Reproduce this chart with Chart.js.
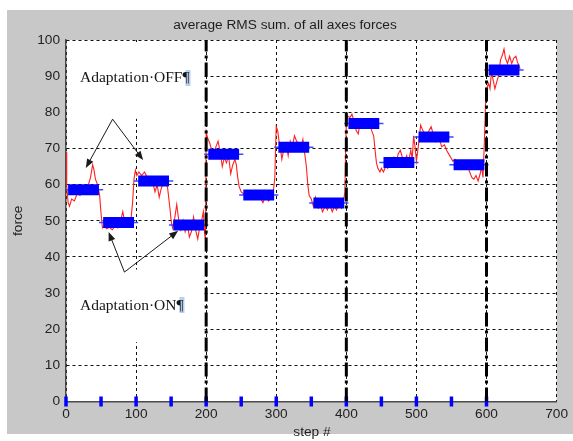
<!DOCTYPE html>
<html><head><meta charset="utf-8">
<script src="https://cdn.jsdelivr.net/npm/chart.js@4.4.0/dist/chart.umd.min.js"></script>
<style>html,body{margin:0;padding:0;background:#fff;overflow:hidden}</style>
</head><body>
<canvas id="c" width="573" height="441"></canvas>
<script>
const TITLE = "average RMS sum. of all axes forces";
const X_TITLE = "step #";
const Y_TITLE = "force";
const xTicks = [0, 100, 200, 300, 400, 500, 600, 700];
const yTicks = [0, 10, 20, 30, 40, 50, 60, 70, 80, 90, 100];

// red measured force trace
const steps = [0,1,3,5,8,12,16,20,24,28,32,35,38,40,42,45,48,50,52,
  55,58,62,66,70,74,78,81,84,87,90,93,95,97,99,
  101,104,108,112,116,120,124,127,130,133,136,139,142,145,148,150,152,
  155,158,161,164,167,170,173,176,179,182,185,188,191,194,196,198,199,
  200,202,205,208,211,214,217,220,223,226,229,232,235,238,241,243,245,247,250,
  253,257,261,265,269,273,277,281,285,289,293,296,298,299,300,
  302,304,306,308,311,314,317,320,323,326,329,332,335,338,341,343,345,347,350,
  353,356,360,363,366,370,373,376,380,383,386,390,393,396,398,399,400,
  402,405,408,411,414,417,420,423,426,430,433,436,439,441,443,445,448,450,
  453,456,459,462,465,468,471,474,477,480,483,486,489,492,494,496,498,500,
  503,506,509,512,515,518,521,524,527,530,533,536,540,543,546,549,
  552,555,558,561,564,567,570,573,576,579,582,585,588,591,593,595,597,599,601,
  603,605,607,610,612,614,617,620,623,625,627,630,633,636,639,642,644,646,648];
const force = [69,60,55,54,56,55.5,57.5,57,58.5,58,60,62,65.5,64,61.5,60,57,52,48,
  48.5,47.8,48.2,47.5,48.5,48,50,52.5,49.5,50.5,49,51,55,61.5,64,
  62.5,63.5,62.5,63.5,62,61,60.5,58,60,56.5,59,60.5,61,59,54,50,48,
  50.5,54.5,50,47.5,50,47,49.5,45.5,47,51,47.5,45,48.5,50.5,52.5,46,45,
  74.5,73,71.5,69.5,68.5,70.5,72,69,65,67.5,66,68,63,65.5,67,65.5,62,59.5,58,
  57.5,56.5,57.5,57,56,57.5,56.5,55,57,55.5,56.5,58.5,62,70,76,
  75,72,70,67,70,71.5,68,72,70.5,73.5,72,71.5,70,72.5,68,65,60,57,56,
  54,56.5,53.5,54.5,52.5,54,53,54.5,52.5,54,53,55,53.5,55.5,58,70,77,
  79,78.5,79.5,77.5,75,74,77.5,76.5,78,77,78,75,73.5,69.5,66,64.5,63.5,64.5,
  63.5,65,64.5,66.5,65.5,67.5,66,68.5,69.5,67.5,66,68,66.5,69.5,67,73.5,70.5,66.5,
  71,76.5,75,74,73.5,75,76,74,72,73.5,72.5,70.5,71,69.5,68.5,67.5,
  66.5,67,66,66.5,65.5,66,64.5,65,63.5,62,61.5,62.5,61,63,65,62,72,85,87,
  88,86.5,91,88.5,86.5,88,90,94.5,96,97.5,95,93.5,95.5,93.5,95,95.5,94,93,92];

// blue block means (50-step blocks)
const blockStart = [0,50,100,150,200,250,300,350,400,450,500,550,600];
const blockMean = [58.6,49.5,61.0,48.8,68.4,57.1,70.3,54.9,76.9,66.1,73.2,65.5,91.7];
const blockLen = 50;

// blue step markers on the axis
const markerSteps = [0,50,100,150,200,250,300,350,400,450,500,550,600];
const markerValue = [0,0,0,0,0,0,0,0,0,0,0,0,0];

// phase boundaries (dash-dot lines)
const phaseBoundaries = [200, 400, 600];

// annotations
const noteOff = "Adaptation\u00B7OFF\u00B6";
const noteOn = "Adaptation\u00B7ON\u00B6";
const offArrowTail = [66.5, 78.1];
const offArrowTips = [[28.3, 64.6], [110, 66.8]];
const onArrowTail = [83.4, 35.8];
const onArrowTips = [[60.8, 46.9], [160, 47.2]];

// --- build datasets ---
const redData = steps.map((s, i) => ({x: s, y: force[i]}));
const thick = [], thin = [];
blockStart.forEach((s, i) => {
  thick.push({x: s + 3, y: blockMean[i]}, {x: s + blockLen - 3, y: blockMean[i]}, {x: s + blockLen - 1, y: null});
  thin.push({x: s - 3, y: blockMean[i]}, {x: s + blockLen + 3, y: blockMean[i]}, {x: s + blockLen + 4, y: null});
});
const phaseData = [];
phaseBoundaries.forEach(b => { phaseData.push({x: b, y: 0}, {x: b, y: 100}, {x: b + 1, y: null}); });
const markerData = markerSteps.map((s, i) => ({x: s, y: markerValue[i]}));

const FONT = "'Liberation Sans', Arial, Helvetica, sans-serif";

function arrow(ctx, x1, y1, x2, y2) {
  const ang = Math.atan2(y2 - y1, x2 - x1);
  const L = 9, W = 3.5;
  ctx.beginPath(); ctx.moveTo(x1, y1);
  ctx.lineTo(x2 - L * 0.8 * Math.cos(ang), y2 - L * 0.8 * Math.sin(ang)); ctx.stroke();
  ctx.beginPath();
  ctx.moveTo(x2, y2);
  ctx.lineTo(x2 - L * Math.cos(ang) + W * Math.sin(ang), y2 - L * Math.sin(ang) - W * Math.cos(ang));
  ctx.lineTo(x2 - L * Math.cos(ang) - W * Math.sin(ang), y2 - L * Math.sin(ang) + W * Math.cos(ang));
  ctx.closePath(); ctx.fill();
}

const deco = {
  id: 'deco',
  beforeDraw(chart) {
    const ctx = chart.ctx, a = chart.chartArea;
    ctx.save();
    ctx.fillStyle = '#ffffff'; ctx.fillRect(0, 0, chart.width, chart.height);
    ctx.fillStyle = '#c8c8c8'; ctx.fillRect(7, 10, chart.width - 7, 424);
    ctx.fillStyle = '#ffffff'; ctx.fillRect(a.left, a.top, a.right - a.left, a.bottom - a.top);
    ctx.restore();
  },
  beforeDatasetsDraw(chart) {
    const ctx = chart.ctx, a = chart.chartArea, xs = chart.scales.x, ys = chart.scales.y;
    ctx.save();
    ctx.fillStyle = '#ffffff';
    const xr = xs.getPixelForValue(200) - 2;
    ctx.fillRect(a.left + 1, a.top + 2, xr - a.left - 1, ys.getPixelForValue(78.2) - a.top - 2);
    ctx.fillRect(a.left + 1, ys.getPixelForValue(36.5), xr - a.left - 1, ys.getPixelForValue(16.4) - ys.getPixelForValue(36.5));
    ctx.restore();
  },
  afterDatasetsDraw(chart) {
    const ctx = chart.ctx, xs = chart.scales.x, ys = chart.scales.y;
    ctx.save();
    ctx.font = "15.5px 'Liberation Serif', 'Times New Roman', serif";
    ctx.textBaseline = 'alphabetic';
    ctx.textAlign = 'left';
    const tx = xs.getPixelForValue(20);
    const wOff = ctx.measureText(noteOff).width, wOn = ctx.measureText(noteOn).width;
    ctx.fillStyle = '#b8d0f0';
    ctx.fillRect(tx + wOff - 4, 70, 5, 16);
    ctx.fillRect(tx + wOn - 4, 297, 5, 16);
    ctx.fillStyle = '#141414';
    ctx.fillText(noteOff, tx, 82);
    ctx.fillText(noteOn, tx, 310);
    ctx.strokeStyle = '#1a1a1a'; ctx.fillStyle = '#1a1a1a'; ctx.lineWidth = 1;
    const px = p => [xs.getPixelForValue(p[0]), ys.getPixelForValue(p[1])];
    const t1 = px(offArrowTail);
    offArrowTips.forEach(p => { const q = px(p); arrow(ctx, t1[0], t1[1], q[0], q[1]); });
    const t2 = px(onArrowTail);
    onArrowTips.forEach(p => { const q = px(p); arrow(ctx, t2[0], t2[1], q[0], q[1]); });
    ctx.restore();
  },
  afterDraw(chart) {
    const ctx = chart.ctx, a = chart.chartArea;
    ctx.save();
    ctx.fillStyle = '#1e1e1e';
    ctx.font = "13.7px " + FONT;
    ctx.textAlign = 'center'; ctx.textBaseline = 'middle';
    ctx.fillText(TITLE, 285, 25);
    ctx.fillText(X_TITLE, 312, 432);
    ctx.translate(18, (a.top + a.bottom) / 2);
    ctx.rotate(-Math.PI / 2);
    ctx.fillText(Y_TITLE, 0, 0);
    ctx.restore();
  }
};

new Chart(document.getElementById('c'), {
  type: 'line',
  data: {
    datasets: [
      {data: phaseData, borderColor: '#000000', borderWidth: 3, borderDash: [14, 4, 3, 4], pointRadius: 0, borderCapStyle: 'butt', spanGaps: false},
      {data: markerData, showLine: false, clip: false, pointStyle: 'line', pointRotation: 90, pointRadius: 5, pointBorderWidth: 3.5, pointBorderColor: '#0000ff', pointBackgroundColor: '#0000ff'},
      {data: thick, borderColor: '#0000ff', borderWidth: 11, pointRadius: 0, borderCapStyle: 'butt', spanGaps: false},
      {data: thin, borderColor: '#3a4cff', borderWidth: 1.5, pointRadius: 0, spanGaps: false},
      {data: redData, borderColor: '#ff2020', borderWidth: 1.1, pointRadius: 0, tension: 0}
    ]
  },
  options: {
    responsive: false,
    animation: false,
    devicePixelRatio: 1,
    layout: {padding: {left: 0, top: 40, right: 12, bottom: 0}},
    plugins: {legend: {display: false}, tooltip: {enabled: false}, title: {display: false}},
    scales: {
      x: {
        type: 'linear', min: 0, max: 700,
        afterFit(s) { s.height = 39.5; },
        afterBuildTicks(s) { s.ticks = xTicks.map(v => ({value: v})); },
        grid: {color: '#111111', lineWidth: 1, drawTicks: false},
        border: {display: true, color: '#4a4a4a', width: 1.5, dash: [3, 3]},
        ticks: {color: '#222222', font: {family: FONT, size: 13.7}, padding: 5, maxRotation: 0, autoSkip: false}
      },
      y: {
        type: 'linear', min: 0, max: 100,
        afterFit(s) { s.width = 66; },
        afterBuildTicks(s) { s.ticks = yTicks.map(v => ({value: v})); },
        grid: {color: '#111111', lineWidth: 1, drawTicks: false},
        border: {display: true, color: '#4a4a4a', width: 1.5, dash: [3, 3]},
        ticks: {color: '#222222', font: {family: FONT, size: 13.7}, padding: 6, autoSkip: false}
      }
    }
  },
  plugins: [deco]
});
</script>
</body></html>
